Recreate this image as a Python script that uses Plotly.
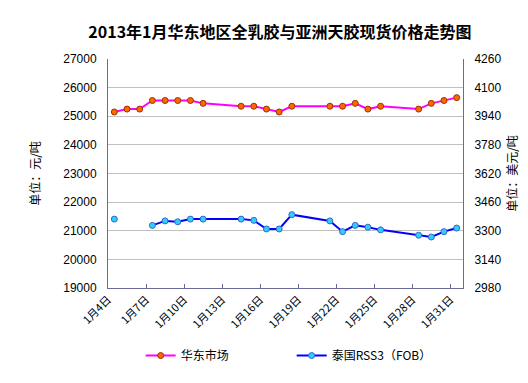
import plotly.graph_objects as go

days = [4, 5, 6, 7, 8, 9, 10, 11, 14, 15, 16, 17, 18, 21, 22, 23, 24, 25, 28, 29, 30, 31]
east_china = [25150, 25250, 25250, 25550, 25550, 25550, 25550, 25450, 25350, 25350, 25250,
              25150, 25350, 25350, 25350, 25450, 25250, 25350, 25250, 25450, 25550, 25650]
thai_rss3 = [3365, None, None, 3330, 3355, 3350, 3365, 3365, 3365, 3358, 3310,
             3310, 3390, 3355, 3295, 3330, 3320, 3305, 3275, 3265, 3295, 3315]
tick_days = [4, 7, 10, 13, 16, 19, 22, 25, 28, 31]
tick_labels = [f"1月{d}日" for d in tick_days]
left_ticks = [19000, 20000, 21000, 22000, 23000, 24000, 25000, 26000, 27000]
right_ticks = [2980, 3140, 3300, 3460, 3620, 3780, 3940, 4100, 4260]

axis_color = "#6B6B9A"
cjk = "Noto Sans CJK SC"

fig = go.Figure()
fig.add_trace(go.Scatter(
    x=days, y=east_china, name="华东市场", mode="lines+markers",
    line=dict(color="#FF00FF", width=2),
    marker=dict(symbol="circle", size=6, color="#FF6600", line=dict(color="#993300", width=1)),
    yaxis="y", connectgaps=False,
))
fig.add_trace(go.Scatter(
    x=days, y=thai_rss3, name="泰国RSS3（FOB）", mode="lines+markers",
    line=dict(color="#0000FF", width=2),
    marker=dict(symbol="circle", size=6, color="#33CCFF", line=dict(color="#3366CC", width=1)),
    yaxis="y2", connectgaps=False,
))

fig.update_layout(
    width=528, height=383,
    margin=dict(l=100, r=73, t=51, b=103),
    paper_bgcolor="white", plot_bgcolor="white",
    title=dict(text="<b>2013年1月华东地区全乳胶与亚洲天胶现货价格走势图</b>",
               x=0.515, xanchor="center", y=0.935, yanchor="middle",
               font=dict(family=cjk, size=16, color="black")),
    xaxis=dict(
        range=[3.5, 31.5],
        tickmode="array", tickvals=[d - 0.5 for d in tick_days], ticktext=tick_labels,
        tickangle=-45, ticks="inside", ticklen=4, tickcolor=axis_color,
        showgrid=False, showline=True, linecolor=axis_color, linewidth=1,
        tickfont=dict(family=cjk, size=11, color="black"),
        zeroline=False, mirror=False,
    ),
    yaxis=dict(
        range=[19000, 27000], tickmode="array", tickvals=left_ticks,
        ticktext=[str(v) for v in left_ticks],
        showgrid=True, gridcolor="#BFBFBF", gridwidth=1,
        showline=True, linecolor=axis_color, linewidth=1,
        ticks="", ticklabelstandoff=8,
        tickfont=dict(family="Liberation Sans", size=12, color="black"),
        title=dict(text="单位：元/吨", font=dict(family=cjk, size=12, color="black"), standoff=20),
        zeroline=False,
    ),
    yaxis2=dict(
        range=[2980, 4260], tickmode="array", tickvals=right_ticks,
        ticktext=[str(v) for v in right_ticks],
        overlaying="y", side="right",
        showgrid=False, showline=True, linecolor=axis_color, linewidth=1,
        ticks="", ticklabelstandoff=8,
        tickfont=dict(family="Liberation Sans", size=12, color="black"),
        title=dict(text="单位：美元/吨", font=dict(family=cjk, size=12, color="black"), standoff=8),
        zeroline=False,
    ),
    legend=dict(orientation="h", x=0.092, xanchor="left", y=-0.295, yanchor="middle",
                font=dict(family=cjk, size=12, color="black"),
                itemwidth=30, entrywidth=106, entrywidthmode="pixels",
                bgcolor="rgba(0,0,0,0)"),
    showlegend=True,
)

fig.write_html("out.html")
